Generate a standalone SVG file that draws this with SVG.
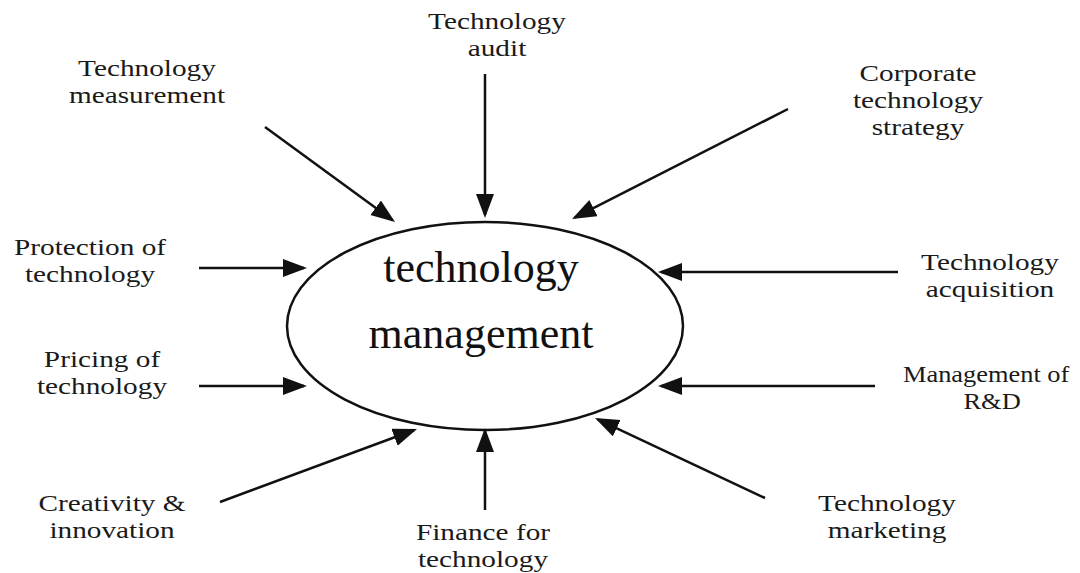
<svg xmlns="http://www.w3.org/2000/svg" width="1080" height="573" viewBox="0 0 1080 573">
<style>
.lbl{font-family:"Liberation Serif","Times New Roman",serif;font-size:24px;fill:#1a1a1a;text-anchor:middle}
.ctr{font-family:"Liberation Serif","Times New Roman",serif;font-size:44px;fill:#111;text-anchor:middle}
.arr{stroke:#111;stroke-width:2.5;fill:none;marker-end:url(#ah)}
</style>
<defs>
<marker id="ah" markerUnits="userSpaceOnUse" markerWidth="26" markerHeight="20" refX="21" refY="9" orient="auto">
<path d="M0,0 L24,9 L0,18 z" fill="#111"/>
</marker>
</defs>
<rect width="1080" height="573" fill="#fff"/>
<g id="connectors">
<line class="arr" x1="485" y1="74" x2="485" y2="215"/>
<line class="arr" x1="265" y1="127" x2="392.6" y2="220.2"/>
<line class="arr" x1="788" y1="109" x2="574.7" y2="217.6"/>
<line class="arr" x1="199" y1="268" x2="304" y2="268"/>
<line class="arr" x1="199" y1="386" x2="304" y2="386"/>
<line class="arr" x1="898" y1="272" x2="661" y2="272"/>
<line class="arr" x1="875" y1="386" x2="661" y2="386"/>
<line class="arr" x1="220" y1="502" x2="414.2" y2="430"/>
<line class="arr" x1="485" y1="510" x2="485" y2="431"/>
<line class="arr" x1="765" y1="498" x2="597.7" y2="419.3"/>
</g>
<g id="center">
<ellipse cx="485" cy="326" rx="198" ry="104" fill="none" stroke="#111" stroke-width="2.5"/>
<text class="ctr" x="481" y="282">technology</text>
<text class="ctr" x="481" y="348">management</text>
</g>
<g id="measurement" transform="translate(147,0) scale(1.22,1)"><text class="lbl" x="0" y="76">Technology</text><text class="lbl" x="0" y="103">measurement</text></g>
<g id="audit" transform="translate(497,0) scale(1.22,1)"><text class="lbl" x="0" y="29">Technology</text><text class="lbl" x="0" y="56">audit</text></g>
<g id="corporate" transform="translate(918,0) scale(1.22,1)"><text class="lbl" x="0" y="81">Corporate</text><text class="lbl" x="0" y="108">technology</text><text class="lbl" x="0" y="135">strategy</text></g>
<g id="protection" transform="translate(90,0) scale(1.22,1)"><text class="lbl" x="0" y="255">Protection of</text><text class="lbl" x="0" y="282">technology</text></g>
<g id="pricing" transform="translate(102,0) scale(1.22,1)"><text class="lbl" x="0" y="367">Pricing of</text><text class="lbl" x="0" y="394">technology</text></g>
<g id="acquisition" transform="translate(990,0) scale(1.22,1)"><text class="lbl" x="0" y="270">Technology</text><text class="lbl" x="0" y="297">acquisition</text></g>
<g id="rnd" transform="translate(903,0) scale(1.1,1)"><text class="lbl" x="0" y="382" style="text-anchor:start">Management of</text><text class="lbl" x="81" y="409">R&amp;D</text></g>
<g id="creativity" transform="translate(112,0) scale(1.22,1)"><text class="lbl" x="0" y="511">Creativity &amp;</text><text class="lbl" x="0" y="538">innovation</text></g>
<g id="finance" transform="translate(483,0) scale(1.22,1)"><text class="lbl" x="0" y="540">Finance for</text><text class="lbl" x="0" y="567">technology</text></g>
<g id="marketing" transform="translate(887,0) scale(1.22,1)"><text class="lbl" x="0" y="511">Technology</text><text class="lbl" x="0" y="538">marketing</text></g>
</svg>
